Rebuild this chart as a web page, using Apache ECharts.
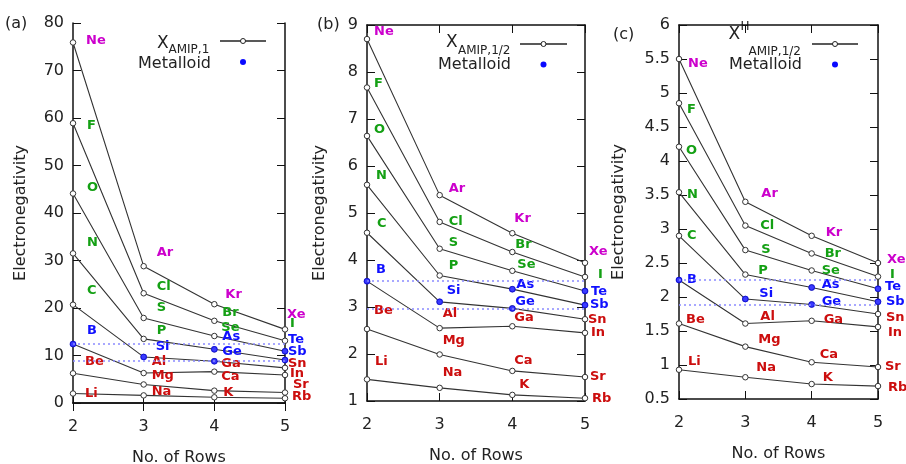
<!DOCTYPE html>
<html>
<head>
<meta charset="utf-8">
<script src="https://cdn.jsdelivr.net/npm/echarts@6/dist/echarts.min.js"></script>
<style>
  html, body { margin: 0; padding: 0; background: #fff; }
  #chart { width: 906px; height: 464px; }
</style>
</head>
<body>
<div id="chart"></div>
<script>
// Period rows on the x axis
const rows = [2, 3, 4, 5];

// Elements of each group, one line per group, ordered by row
const groups = [
  ['Ne', 'Ar', 'Kr', 'Xe'],
  ['F', 'Cl', 'Br', 'I'],
  ['O', 'S', 'Se', 'Te'],
  ['N', 'P', 'As', 'Sb'],
  ['C', 'Si', 'Ge', 'Sn'],
  ['B', 'Al', 'Ga', 'In'],
  ['Be', 'Mg', 'Ca', 'Sr'],
  ['Li', 'Na', 'K', 'Rb']
];

const nobleGases = ['Ne', 'Ar', 'Kr', 'Xe'];
const nonmetals = ['F', 'Cl', 'Br', 'I', 'O', 'S', 'Se', 'N', 'P', 'C'];
const metalloids = ['B', 'Si', 'Ge', 'As', 'Sb', 'Te'];

// Electronegativity values, one row per group (rows 2..5)
const xAmip1 = [
  [75.9, 28.8, 20.8, 15.5],
  [58.9, 23.1, 17.3, 13.1],
  [44.1, 17.9, 14.1, 10.9],
  [31.5, 13.5, 11.3, 9.05],
  [20.7, 9.7, 8.8, 7.4],
  [12.4, 6.3, 6.6, 5.9],
  [6.25, 3.9, 2.6, 2.2],
  [2.0, 1.6, 1.2, 1.0]
];
const xAmipHalf = [
  [8.70, 5.38, 4.57, 3.94],
  [7.67, 4.81, 4.17, 3.64],
  [6.64, 4.24, 3.77, 3.34],
  [5.60, 3.67, 3.38, 3.04],
  [4.58, 3.11, 2.97, 2.74],
  [3.55, 2.55, 2.59, 2.45],
  [2.53, 1.99, 1.64, 1.51],
  [1.46, 1.28, 1.13, 1.06]
];
const xHAmipHalf = [
  [5.50, 3.40, 2.90, 2.50],
  [4.85, 3.05, 2.64, 2.30],
  [4.21, 2.69, 2.39, 2.12],
  [3.54, 2.33, 2.14, 1.93],
  [2.90, 1.97, 1.89, 1.75],
  [2.25, 1.61, 1.65, 1.56],
  [1.61, 1.27, 1.04, 0.97],
  [0.93, 0.82, 0.72, 0.69]
];

// Label placement (pixel offset of the label's left/middle from its point)
const labelOffsetsA = [
  [[13, -2], [13, -14], [11, -10], [2, -15]],
  [[14, 2], [13, -7], [8, -8], [5, -17]],
  [[14, -6], [13, -10], [7, -8], [3, -12]],
  [[14, -11], [13, -8], [8, -13], [3, -8]],
  [[14, -14], [12, -10], [8, -10], [3, -4]],
  [[14, -13], [8, -11], [7, -8], [5, -1]],
  [[12, -12], [8, -9], [7, -14], [8, -8]],
  [[12, 0], [8, -4], [9, -5], [7, -2]]
];
const labelOffsetsB = [
  [[7, -7], [9, -7], [2, -15], [4, -11]],
  [[7, -4], [9, 0], [3, -7], [13, -2]],
  [[7, -6], [9, -6], [5, -6], [6, 1]],
  [[9, -9], [9, -10], [4, -5], [5, 0]],
  [[10, -9], [7, -11], [3, -7], [3, 0]],
  [[9, -12], [3, -15], [2, -9], [6, 0]],
  [[7, -18], [3, -14], [2, -10], [5, 0]],
  [[8, -18], [3, -15], [7, -10], [7, 0]]
];
const labelOffsetsC = [
  [[9, 5], [16, -8], [14, -3], [9, -3]],
  [[8, 6], [15, 0], [13, 0], [12, -2]],
  [[7, 4], [16, 0], [10, 0], [7, -2]],
  [[8, 2], [13, -4], [10, -3], [8, 0]],
  [[8, 0], [14, -5], [10, -3], [8, 4]],
  [[8, 0], [15, -7], [12, -1], [10, 6]],
  [[7, -4], [13, -7], [8, -8], [7, 0]],
  [[9, -8], [11, -10], [11, -6], [10, 2]]
];

const FONT = 'DejaVu Sans';
const COLORS = {
  noble: '#cc00cc',
  nonmetal: '#14a014',
  metalloid: '#1010ff',
  metal: '#cc0e0e'
};

function elementColor(name) {
  if (nobleGases.includes(name)) return COLORS.noble;
  if (metalloids.includes(name)) return COLORS.metalloid;
  if (nonmetals.includes(name)) return COLORS.nonmetal;
  return COLORS.metal;
}

const panels = [
  {
    tag: '(a)', values: xAmip1, offsets: labelOffsetsA,
    grid: { left: 73, top: 23, width: 212, height: 380 },
    yMin: 0, yMax: 80, yStep: 10, nameGap: 44,
    tagPos: [5, 24],
    legend: { x: 157, xY: 43.5, sub: 'AMIP,1', subX: 168.5, subY: 50, sup: null,
              met: 211, metY: 64, lineL: 220, lineR: 266, lineY: 41, dotY: 62 }
  },
  {
    tag: '(b)', values: xAmipHalf, offsets: labelOffsetsB,
    grid: { left: 367, top: 25, width: 218, height: 376 },
    yMin: 1, yMax: 9, yStep: 1, nameGap: 39,
    tagPos: [317, 25],
    legend: { x: 446, xY: 42.5, sub: 'AMIP,1/2', subX: 458, subY: 50.5, sup: null,
              met: 511, metY: 65, lineL: 520, lineR: 567, lineY: 44, dotY: 64.5 }
  },
  {
    tag: '(c)', values: xHAmipHalf, offsets: labelOffsetsC,
    grid: { left: 679, top: 25, width: 199, height: 374 },
    yMin: 0.5, yMax: 6, yStep: 0.5, nameGap: 52,
    tagPos: [613, 35],
    legend: { x: 728.5, xY: 34.5, sub: 'AMIP,1/2', subX: 748.5, subY: 52, sup: 'H', supX: 740.5, supY: 27,
              met: 802, metY: 65, lineL: 812, lineR: 858, lineY: 44, dotY: 64.5 }
  }
];

const grids = [], xAxes = [], yAxes = [], series = [], graphics = [];

panels.forEach((p, i) => {
  grids.push(Object.assign({ outerBoundsMode: 'none', containLabel: false }, p.grid));

  const xBase = {
    gridIndex: i, type: 'value', min: 2, max: 5, interval: 1,
    splitLine: { show: false },
    axisLine: { show: true, lineStyle: { color: '#111', width: 1.5 } },
    axisTick: { show: true, inside: true, length: 8, lineStyle: { color: '#111', width: 1 } }
  };
  xAxes.push(Object.assign({}, xBase, {
    position: 'bottom',
    name: 'No. of Rows', nameLocation: 'middle', nameGap: 47,
    nameTextStyle: { fontFamily: FONT, fontSize: 16, color: '#222' },
    axisLabel: { fontFamily: FONT, fontSize: 16, color: '#222', margin: 16 }
  }));
  xAxes.push(Object.assign({}, xBase, { position: 'top', axisLabel: { show: false } }));

  const yBase = {
    gridIndex: i, type: 'value', min: p.yMin, max: p.yMax, interval: p.yStep,
    splitLine: { show: false },
    axisLine: { show: true, lineStyle: { color: '#111', width: 1.5 } },
    axisTick: { show: true, inside: true, length: 8, lineStyle: { color: '#111', width: 1 } }
  };
  yAxes.push(Object.assign({}, yBase, {
    position: 'left',
    name: 'Electronegativity', nameLocation: 'middle', nameGap: p.nameGap,
    nameTextStyle: { fontFamily: FONT, fontSize: 16, color: '#222' },
    axisLabel: { fontFamily: FONT, fontSize: 16, color: '#222', margin: 9 }
  }));
  yAxes.push(Object.assign({}, yBase, { position: 'right', axisLabel: { show: false } }));

  // One line per group across the rows
  groups.forEach((names, g) => {
    series.push({
      type: 'line',
      xAxisIndex: 2 * i, yAxisIndex: 2 * i,
      z: 3,
      symbol: 'circle', symbolSize: 5.5,
      itemStyle: { color: '#fff', borderColor: '#333', borderWidth: 1 },
      lineStyle: { color: '#333', width: 1.1 },
      emphasis: { disabled: true },
      data: rows.map((r, k) => ({
        value: [r, p.values[g][k]],
        label: {
          show: true,
          position: 'inside',
          align: 'left',
          verticalAlign: 'middle',
          offset: p.offsets[g][k],
          formatter: names[k],
          color: elementColor(names[k]),
          fontFamily: FONT,
          fontWeight: 'bold',
          fontSize: 13
        }
      }))
    });
  });

  // Metalloid points plus reference levels at B and Ge
  const metPoints = [];
  groups.forEach((names, g) => {
    names.forEach((n, k) => {
      if (metalloids.includes(n)) metPoints.push([rows[k], p.values[g][k]]);
    });
  });
  const bLevel = p.values[groups.findIndex(n => n.includes('B'))][0];
  const geLevel = p.values[groups.findIndex(n => n.includes('Ge'))][2];
  series.push({
    type: 'scatter',
    xAxisIndex: 2 * i, yAxisIndex: 2 * i,
    z: 4,
    symbol: 'circle', symbolSize: 6.5,
    itemStyle: { color: '#0a0aff' },
    emphasis: { disabled: true },
    data: metPoints,
    markLine: {
      silent: true,
      symbol: 'none',
      label: { show: false },
      lineStyle: { color: '#8a8aff', type: [2, 3], width: 1.5 },
      data: [{ yAxis: bLevel }, { yAxis: geLevel }]
    }
  });

  // Panel tag
  graphics.push({
    type: 'text', x: p.tagPos[0], y: p.tagPos[1],
    style: { text: p.tag, font: '16px "' + FONT + '"', fill: '#222',
             textAlign: 'left', textVerticalAlign: 'middle', align: 'left', verticalAlign: 'middle' }
  });

  // Key
  const L = p.legend;
  graphics.push({
    type: 'text', x: L.x, y: L.xY,
    style: { text: 'X', font: '17px "' + FONT + '"', fill: '#222',
             textAlign: 'left', textVerticalAlign: 'middle', align: 'left', verticalAlign: 'middle' }
  });
  graphics.push({
    type: 'text', x: L.subX, y: L.subY,
    style: { text: L.sub, font: '12px "' + FONT + '"', fill: '#222',
             textAlign: 'left', textVerticalAlign: 'middle', align: 'left', verticalAlign: 'middle' }
  });
  if (L.sup) {
    graphics.push({
      type: 'text', x: L.supX, y: L.supY,
      style: { text: L.sup, font: '12px "' + FONT + '"', fill: '#222',
               textAlign: 'left', textVerticalAlign: 'middle', align: 'left', verticalAlign: 'middle' }
    });
  }
  graphics.push({
    type: 'text', x: L.met, y: L.metY,
    style: { text: 'Metalloid', font: '16px "' + FONT + '"', fill: '#222',
             textAlign: 'right', textVerticalAlign: 'middle', align: 'right', verticalAlign: 'middle' }
  });
  const mid = (L.lineL + L.lineR) / 2;
  graphics.push({
    type: 'line', shape: { x1: L.lineL, y1: L.lineY, x2: L.lineR, y2: L.lineY },
    style: { stroke: '#222', lineWidth: 1.3 }
  });
  graphics.push({
    type: 'circle', shape: { cx: mid, cy: L.lineY, r: 2.5 },
    style: { fill: '#fff', stroke: '#222', lineWidth: 1 }
  });
  graphics.push({
    type: 'circle', shape: { cx: mid, cy: L.dotY, r: 3 },
    style: { fill: '#0a0aff' }
  });
});

const chart = echarts.init(document.getElementById('chart'), null, { renderer: 'canvas' });
chart.setOption({
  animation: false,
  backgroundColor: '#fff',
  grid: grids,
  xAxis: xAxes,
  yAxis: yAxes,
  series: series,
  graphic: graphics
});
</script>
</body>
</html>
